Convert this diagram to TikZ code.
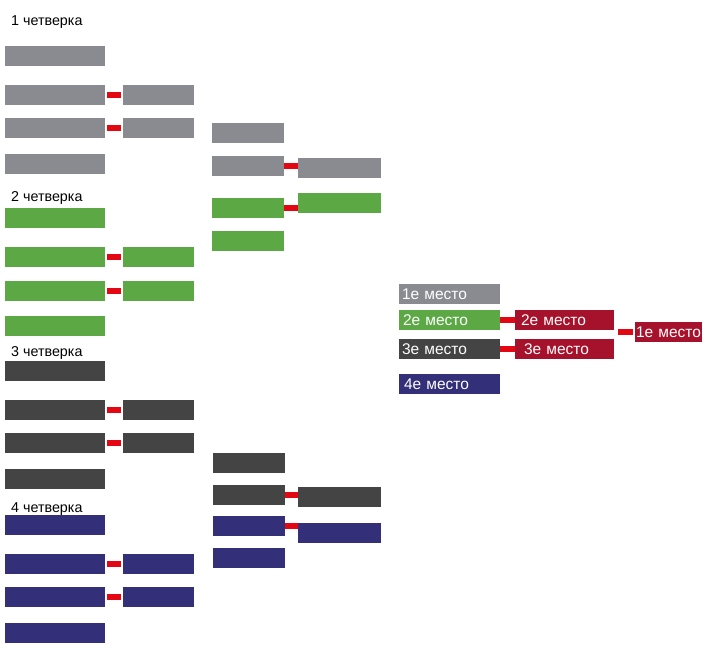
\documentclass[tikz,border=0pt]{standalone}
\usepackage{fontspec}
\setmainfont{Liberation Sans}
\definecolor{cgray}{HTML}{8A8B90}
\definecolor{cgreen}{HTML}{5BA845}
\definecolor{cdark}{HTML}{444444}
\definecolor{cnavy}{HTML}{332F78}
\definecolor{cwin}{HTML}{A6122B}
\definecolor{clink}{HTML}{E30613}
\begin{document}
\begin{tikzpicture}[x=1pt,y=-1pt,
  box/.style={rectangle, inner sep=0pt, minimum height=20pt, draw=none},
  w1/.style={box, minimum width=100pt},
  w2/.style={box, minimum width=71pt},
  w3/.style={box, minimum width=72pt},
  w4/.style={box, minimum width=83pt},
  place/.style={box, inner xsep=#1, align=left, text=white,
    font=\fontsize{15.5}{17}\selectfont},
  grp/.style={anchor=base west, inner sep=0pt, font=\fontsize{14.3}{16}\selectfont},
  link/.style={draw=clink, line width=5.5pt, shorten <=2pt, shorten >=2pt}
]
\useasboundingbox (0,0) rectangle (710,656);

% group labels
\node[grp] (g1) at (11,25) {1 четверка};
\node[grp] (g2) at (11,201) {2 четверка};
\node[grp] (g3) at (11,356) {3 четверка};
\node[grp] (g4) at (11,512) {4 четверка};

% column 1 and 2, group 1
\node[w1, fill=cgray] (a1) at (55,56) {};
\node[w1, fill=cgray] (a2) at (55,95) {};
\node[w1, fill=cgray] (a3) at (55,128) {};
\node[w1, fill=cgray] (a4) at (55,164) {};
\node[w2, fill=cgray] (a5) at (158.5,95) {};
\node[w2, fill=cgray] (a6) at (158.5,128) {};
% group 2
\node[w1, fill=cgreen] (b1) at (55,218) {};
\node[w1, fill=cgreen] (b2) at (55,257) {};
\node[w1, fill=cgreen] (b3) at (55,291) {};
\node[w1, fill=cgreen] (b4) at (55,326) {};
\node[w2, fill=cgreen] (b5) at (158.5,257) {};
\node[w2, fill=cgreen] (b6) at (158.5,291) {};
% group 3
\node[w1, fill=cdark] (c1) at (55,371) {};
\node[w1, fill=cdark] (c2) at (55,410) {};
\node[w1, fill=cdark] (c3) at (55,443) {};
\node[w1, fill=cdark] (c4) at (55,479) {};
\node[w2, fill=cdark] (c5) at (158.5,410) {};
\node[w2, fill=cdark] (c6) at (158.5,443) {};
% group 4
\node[w1, fill=cnavy] (d1) at (55,525) {};
\node[w1, fill=cnavy] (d2) at (55,564) {};
\node[w1, fill=cnavy] (d3) at (55,597) {};
\node[w1, fill=cnavy] (d4) at (55,633) {};
\node[w2, fill=cnavy] (d5) at (158.5,564) {};
\node[w2, fill=cnavy] (d6) at (158.5,597) {};

\draw[link] (a2) -- (a5);
\draw[link] (a3) -- (a6);
\draw[link] (b2) -- (b5);
\draw[link] (b3) -- (b6);
\draw[link] (c2) -- (c5);
\draw[link] (c3) -- (c6);
\draw[link] (d2) -- (d5);
\draw[link] (d3) -- (d6);

% column 3 and 4, top
\node[w3, fill=cgray] (e1) at (248,133) {};
\node[w3, fill=cgray] (e2) at (248,166) {};
\node[w3, fill=cgreen] (e3) at (248,208) {};
\node[w3, fill=cgreen] (e4) at (248,241) {};
\node[w4, fill=cgray] (e5) at (339.5,168) {};
\node[w4, fill=cgreen] (e6) at (339.5,203) {};
\draw[link, shorten <=0pt, shorten >=0pt] (e2.east) -- (e2.east -| e5.west);
\draw[link, shorten <=0pt, shorten >=0pt] (e3.east) -- (e3.east -| e6.west);

% column 3 and 4, bottom
\node[w3, fill=cdark] (f1) at (249,463) {};
\node[w3, fill=cdark] (f2) at (249,495) {};
\node[w3, fill=cnavy] (f3) at (249,526) {};
\node[w3, fill=cnavy] (f4) at (249,558) {};
\node[w4, fill=cdark] (f5) at (339.5,497) {};
\node[w4, fill=cnavy] (f6) at (339.5,533) {};
\draw[link, shorten <=0pt, shorten >=0pt] (f2.east) -- (f2.east -| f5.west);
\draw[link, shorten <=0pt, shorten >=0pt] (f3.east) -- (f3.east -| f6.west);

% places
\node[place=3pt, text width=95pt, minimum width=101pt, fill=cgray] (p1) at (449.5,294) {1е место};
\node[place=4pt, text width=93pt, minimum width=101pt, fill=cgreen] (p2) at (449.5,320) {2е место};
\node[place=3pt, text width=95pt, minimum width=101pt, fill=cdark] (p3) at (449.5,349) {3е место};
\node[place=5pt, text width=91pt, minimum width=101pt, fill=cnavy] (p4) at (449.5,384) {4е место};
\node[place=6pt, text width=87pt, minimum width=99pt, fill=cwin] (r2) at (564.5,320) {2е место};
\node[place=9pt, text width=81pt, minimum width=99pt, fill=cwin] (r3) at (564.5,349) {3е место};
\node[place=1pt, text width=65pt, minimum width=67pt, fill=cwin] (r1) at (668.5,332) {1е место};
\draw[link, shorten <=0pt, shorten >=0pt] (p2.east) -- (p2.east -| r2.west);
\draw[link, shorten <=0pt, shorten >=0pt] (p3.east) -- (p3.east -| r3.west);
\draw[link, shorten <=4pt, shorten >=2pt] (r1.west -| r2.east) -- (r1.west);
\end{tikzpicture}
\end{document}
